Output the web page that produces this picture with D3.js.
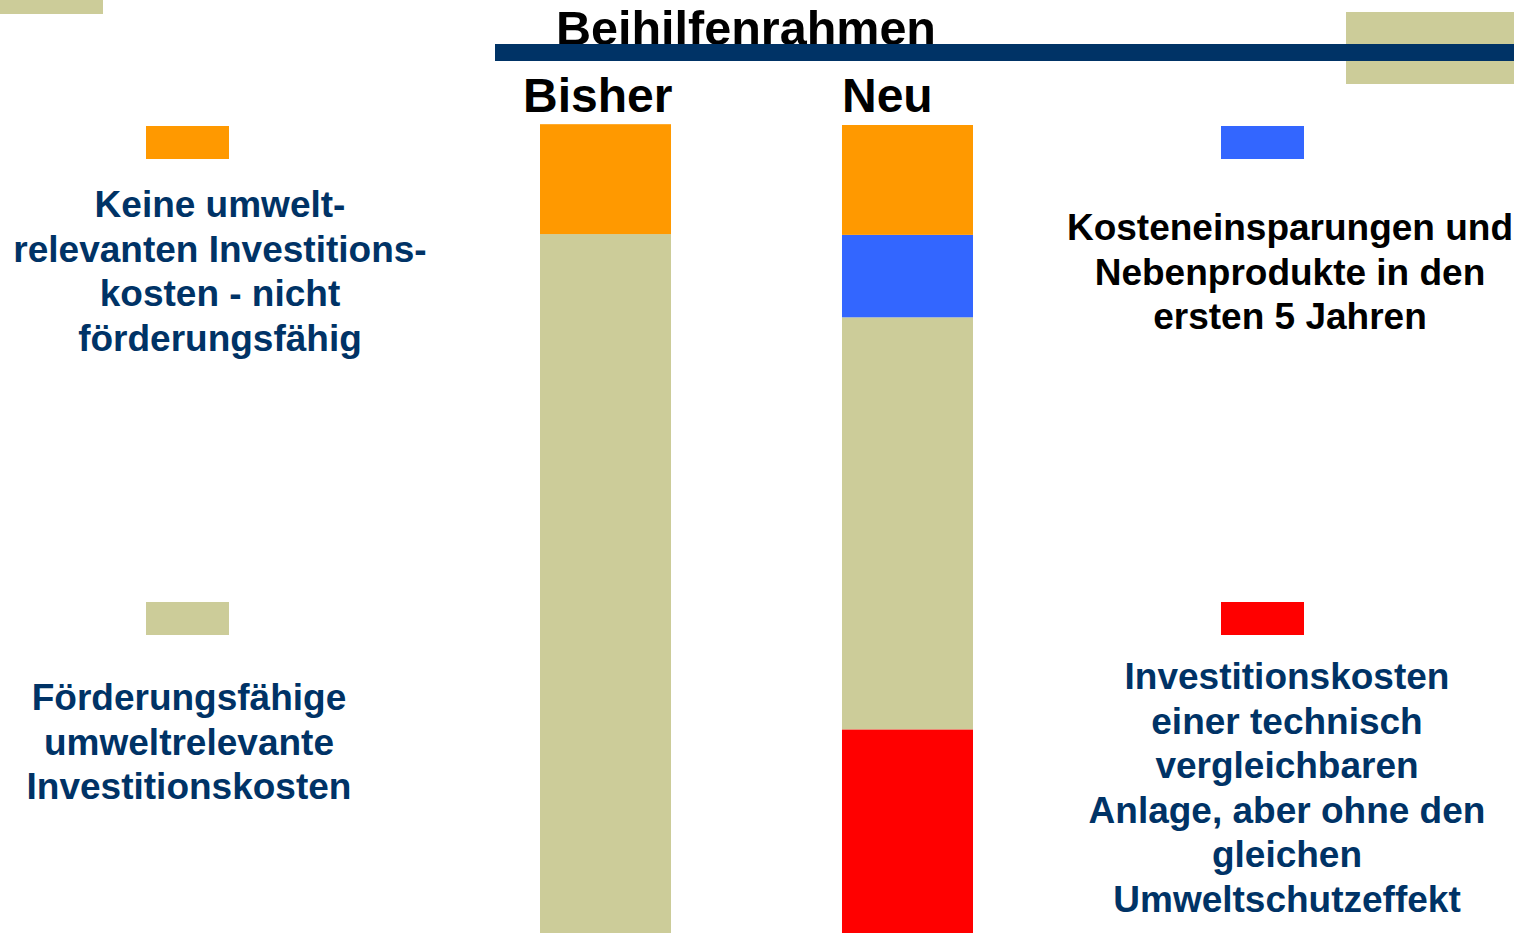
<!DOCTYPE html>
<html>
<head>
<meta charset="utf-8">
<script src="https://cdn.jsdelivr.net/npm/d3@7"></script>
<style>
  html, body { margin: 0; padding: 0; background: #fff; }
  svg { display: block; }
  text { font-family: "Liberation Sans", Arial, Helvetica, sans-serif; font-weight: bold; }
</style>
</head>
<body>
<svg id="chart" width="1514" height="933"></svg>
<script>
// ---- Data ----
const categories = ["Bisher", "Neu"];
const vergleichsanlage = [0, 25.2];     // red: Investitionskosten einer technisch vergleichbaren Anlage
const foerderfaehig   = [86.5, 51.0];   // tan: Förderungsfähige umweltrelevante Investitionskosten
const einsparungen    = [0, 10.2];      // blue: Kosteneinsparungen und Nebenprodukte
const nichtRelevant   = [13.6, 13.6];   // orange: Keine umweltrelevanten Investitionskosten

const seriesKeys = ["vergleich", "foerder", "einspar", "nicht"];
const seriesColors = ["#FF0000", "#CCCC99", "#3366FF", "#FF9900"];

const title = "Beihilfenrahmen";
const legendOrange = ["Keine umwelt-", "relevanten Investitions-", "kosten - nicht", "förderungsfähig"];
const legendTan = ["Förderungsfähige", "umweltrelevante", "Investitionskosten"];
const legendBlue = ["Kosteneinsparungen und", "Nebenprodukte in den", "ersten 5 Jahren"];
const legendRed = ["Investitionskosten", "einer technisch", "vergleichbaren", "Anlage, aber ohne den", "gleichen", "Umweltschutzeffekt"];

// ---- Build table ----
const table = categories.map((c, i) => ({
  cat: c,
  vergleich: vergleichsanlage[i],
  foerder: foerderfaehig[i],
  einspar: einsparungen[i],
  nicht: nichtRelevant[i]
}));

const svg = d3.select("#chart");
const navy = "#003366";

// decorative blocks
svg.append("rect").attr("x", 0).attr("y", 0).attr("width", 103).attr("height", 14).attr("fill", "#CCCC99");
svg.append("rect").attr("x", 1346).attr("y", 12).attr("width", 168).attr("height", 72).attr("fill", "#CCCC99");

// title (drawn before the rule so the rule overlaps it)
svg.append("text").attr("x", 746).attr("y", 45).attr("text-anchor", "middle")
  .attr("font-size", 48.5).attr("fill", "#000").text(title);

svg.append("rect").attr("x", 495).attr("y", 44).attr("width", 1019).attr("height", 17).attr("fill", navy);

// scales
const x = d3.scaleBand().domain(categories).range([540, 972]).paddingInner(0.5695).paddingOuter(0);
const y = d3.scaleLinear().domain([0, 100]).range([933, 125]);

const stack = d3.stack().keys(seriesKeys);
const stacked = stack(table);

svg.append("g").selectAll("g").data(stacked).join("g")
  .attr("fill", (d, i) => seriesColors[i])
  .selectAll("rect").data(d => d).join("rect")
  .attr("x", d => x(d.data.cat))
  .attr("width", x.bandwidth() + 1)
  .attr("y", d => y(d[1]))
  .attr("height", d => Math.max(0, y(d[0]) - y(d[1])));

// column labels
svg.append("text").attr("x", x("Bisher") - 17).attr("y", 112).attr("font-size", 48).attr("fill", "#000").text("Bisher");
svg.append("text").attr("x", x("Neu")).attr("y", 112).attr("font-size", 48).attr("fill", "#000").text("Neu");

// legend
function legend(sx, sy, color, lines, tx, ty, tcolor) {
  svg.append("rect").attr("x", sx).attr("y", sy).attr("width", 83).attr("height", 33).attr("fill", color);
  const t = svg.append("text").attr("text-anchor", "middle").attr("font-size", 37).attr("fill", tcolor);
  lines.forEach((l, i) => {
    t.append("tspan").attr("x", tx).attr("y", ty + i * 44.6).text(l);
  });
}
legend(146, 126, seriesColors[3], legendOrange, 220, 217, navy);
legend(146, 602, seriesColors[1], legendTan, 189, 710, navy);
legend(1221, 126, seriesColors[2], legendBlue, 1290, 240, "#000");
legend(1221, 602, seriesColors[0], legendRed, 1287, 689, navy);
</script>
</body>
</html>
